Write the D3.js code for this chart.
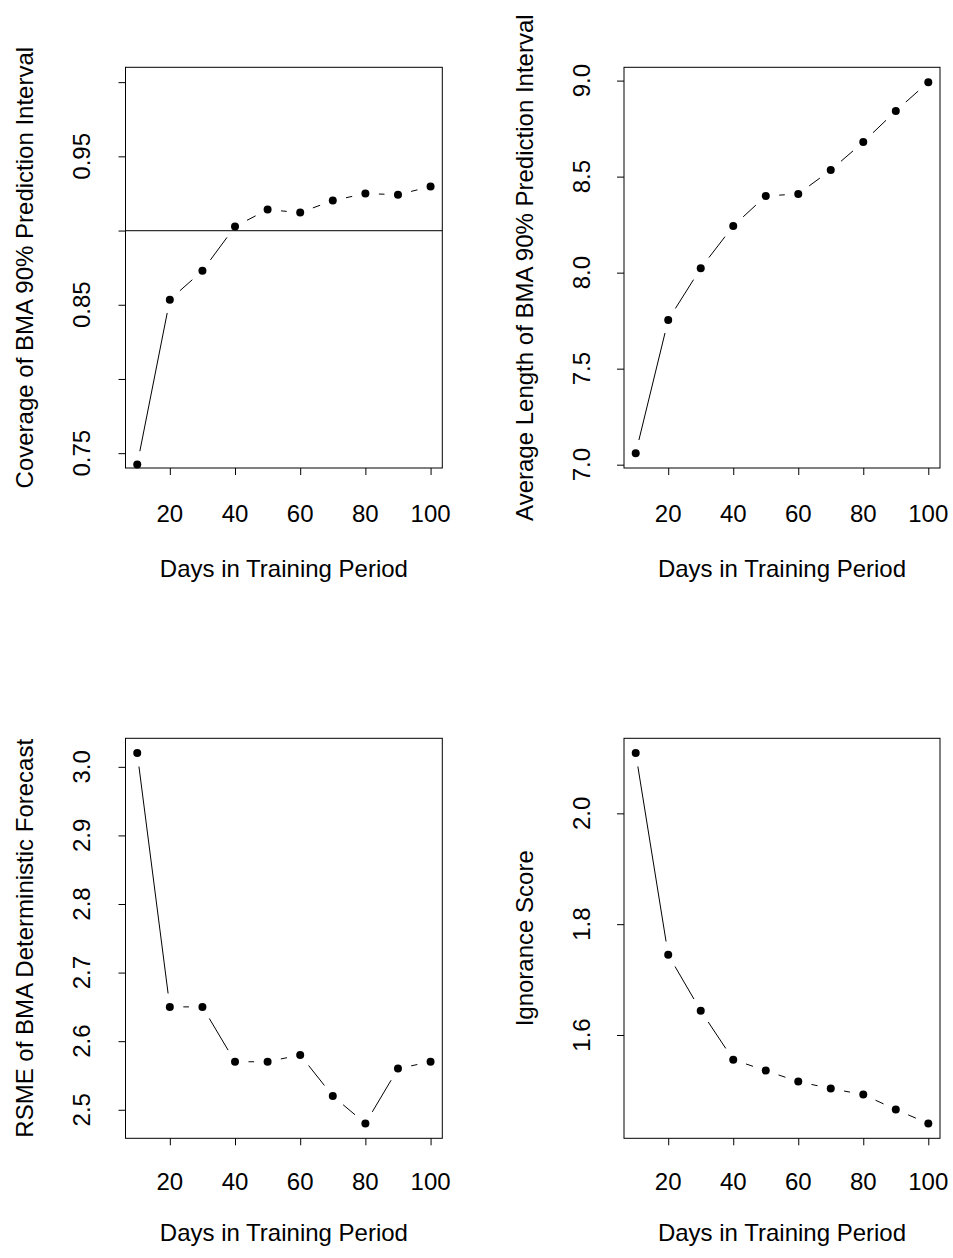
<!DOCTYPE html>
<html>
<head>
<meta charset="utf-8">
<script src="https://cdn.jsdelivr.net/npm/d3@7"></script>
<style>
  html, body { margin: 0; padding: 0; background: #fff; }
  svg { display: block; }
  text { font-family: "Liberation Sans", Arial, Helvetica, sans-serif; fill: #000; }
</style>
</head>
<body>
<svg id="chart" width="953" height="1258"></svg>
<script>
// ---------- data ----------
const days = [10, 20, 30, 40, 50, 60, 70, 80, 90, 100];
const coverage = [0.7424, 0.8534, 0.8729, 0.9027, 0.9141, 0.9121, 0.9202, 0.9249, 0.9242, 0.9296];
const avgLength = [7.06, 7.754, 8.023, 8.243, 8.399, 8.41, 8.534, 8.68, 8.842, 8.992];
const rmse = [3.02, 2.65, 2.65, 2.57, 2.57, 2.58, 2.52, 2.48, 2.56, 2.57];
const ignorance = [2.1087, 1.7447, 1.6438, 1.5555, 1.5357, 1.5159, 1.5033, 1.4925, 1.4655, 1.4403];

const xTicks = [20, 40, 60, 80, 100];
const coverageTicks = [0.75, 0.80, 0.85, 0.90, 0.95, 1.00];
const coverageTickLabels = ["0.75", "", "0.85", "", "0.95", ""];
const coverageLimits = [0.75, 1.00];
const coverageReference = 0.90;
const lengthTicks = [7.0, 7.5, 8.0, 8.5, 9.0];
const lengthTickLabels = ["7.0", "7.5", "8.0", "8.5", "9.0"];
const rmseTicks = [2.5, 2.6, 2.7, 2.8, 2.9, 3.0];
const rmseTickLabels = ["2.5", "2.6", "2.7", "2.8", "2.9", "3.0"];
const ignoranceTicks = [1.6, 1.8, 2.0];
const ignoranceTickLabels = ["1.6", "1.8", "2.0"];

const xTitle = "Days in Training Period";
const yTitles = [
  "Coverage of BMA 90% Prediction Interval",
  "Average Length of BMA 90% Prediction Interval",
  "RSME of BMA Deterministic Forecast",
  "Ignorance Score"
];

// ---------- layout ----------
const FONT = 24;
const svg = d3.select("#chart");

function rExtend(lo, hi) { // R's default 4% axis extension
  const d = (hi - lo) * 0.04;
  return [lo - d, hi + d];
}

function panel(cfg) {
  const { box, values, yLim, yTicks, yLabels, yTitle, refLine, tickBase, titleBase, yTickX, yTitleX } = cfg;
  const g = svg.append("g");
  const x = d3.scaleLinear().domain(rExtend(d3.min(days), d3.max(days))).range([box.l, box.r]);
  const lim = yLim || [d3.min(values), d3.max(values)];
  const y = d3.scaleLinear().domain(rExtend(lim[0], lim[1])).range([box.b, box.t]);

  // reference line
  if (refLine !== undefined) {
    g.append("line")
      .attr("x1", box.l).attr("x2", box.r)
      .attr("y1", y(refLine)).attr("y2", y(refLine))
      .attr("stroke", "#333").attr("stroke-width", 1.2);
  }

  // x axis ticks
  const xa = g.append("g").attr("transform", `translate(0,${box.b})`)
    .call(d3.axisBottom(x).tickValues(xTicks).tickSize(7).tickFormat(""));
  xa.select(".domain").remove();
  xa.selectAll(".tick line").attr("stroke", "#000");
  g.selectAll(".xlab").data(xTicks).enter().append("text")
    .attr("x", d => x(d)).attr("y", tickBase)
    .attr("text-anchor", "middle").attr("font-size", FONT)
    .text(d => d);

  // y axis ticks
  const ya = g.append("g").attr("transform", `translate(${box.l},0)`)
    .call(d3.axisLeft(y).tickValues(yTicks).tickSize(7).tickFormat(""));
  ya.select(".domain").remove();
  ya.selectAll(".tick line").attr("stroke", "#000");
  g.selectAll(".ylab").data(yTicks).enter().append("text")
    .attr("transform", d => `translate(${yTickX},${y(d)}) rotate(-90)`)
    .attr("text-anchor", "middle").attr("font-size", FONT)
    .text((d, i) => yLabels[i]);

  // box
  g.append("rect")
    .attr("x", box.l).attr("y", box.t)
    .attr("width", box.r - box.l).attr("height", box.b - box.t)
    .attr("fill", "none").attr("stroke", "#000").attr("stroke-width", 1);

  // titles
  g.append("text")
    .attr("x", (box.l + box.r) / 2).attr("y", titleBase)
    .attr("text-anchor", "middle").attr("font-size", FONT)
    .text(xTitle);
  g.append("text")
    .attr("transform", `translate(${yTitleX},${(box.t + box.b) / 2}) rotate(-90)`)
    .attr("text-anchor", "middle").attr("font-size", FONT)
    .text(yTitle);

  // type = "b": segments with gaps around points
  const pts = days.map((d, i) => [x(d), y(values[i])]);
  const gap = 13.5;
  const segs = [];
  for (let i = 0; i < pts.length - 1; i++) {
    const [x0, y0] = pts[i], [x1, y1] = pts[i + 1];
    const dx = x1 - x0, dy = y1 - y0, len = Math.hypot(dx, dy);
    if (len > 2 * gap) {
      const ux = dx / len, uy = dy / len;
      segs.push([x0 + ux * gap, y0 + uy * gap, x1 - ux * gap, y1 - uy * gap]);
    }
  }
  g.selectAll(".seg").data(segs).enter().append("line")
    .attr("x1", s => s[0]).attr("y1", s => s[1])
    .attr("x2", s => s[2]).attr("y2", s => s[3])
    .attr("stroke", "#000").attr("stroke-width", 1);

  g.selectAll(".pt").data(values).enter().append("circle")
    .attr("cx", (d, i) => x(days[i])).attr("cy", d => y(d))
    .attr("r", 4).attr("fill", "#000");
}

panel({
  box: { l: 125.5, r: 442.3, t: 67.3, b: 468 },
  values: coverage, yLim: coverageLimits, yTicks: coverageTicks, yLabels: coverageTickLabels,
  yTitle: yTitles[0], refLine: coverageReference,
  tickBase: 522, titleBase: 577, yTickX: 90, yTitleX: 33
});
panel({
  box: { l: 624, r: 940, t: 67.3, b: 468 },
  values: avgLength, yTicks: lengthTicks, yLabels: lengthTickLabels,
  yTitle: yTitles[1],
  tickBase: 522, titleBase: 577, yTickX: 590, yTitleX: 533
});
panel({
  box: { l: 125.5, r: 442.3, t: 738.3, b: 1138.3 },
  values: rmse, yTicks: rmseTicks, yLabels: rmseTickLabels,
  yTitle: yTitles[2],
  tickBase: 1190, titleBase: 1241, yTickX: 90, yTitleX: 33
});
panel({
  box: { l: 624, r: 940, t: 738.3, b: 1138.3 },
  values: ignorance, yTicks: ignoranceTicks, yLabels: ignoranceTickLabels,
  yTitle: yTitles[3],
  tickBase: 1190, titleBase: 1241, yTickX: 590, yTitleX: 533
});
</script>
</body>
</html>
